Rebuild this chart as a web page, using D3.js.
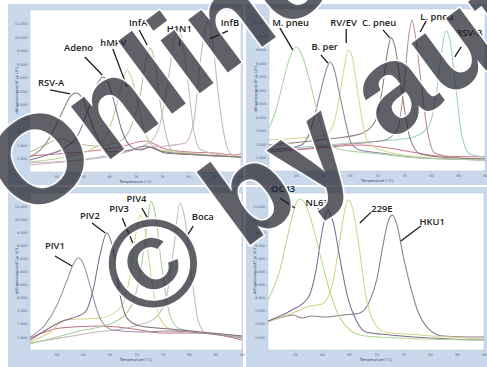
<!DOCTYPE html>
<html>
<head>
<meta charset="utf-8">
<script src="https://cdn.jsdelivr.net/npm/d3@7"></script>
<style>
  html, body { margin: 0; padding: 0; background: #ffffff; }
  svg { display: block; }
</style>
</head>
<body>
<svg id="chart" width="487" height="367"></svg>
<script>
// Melt-curve derivative data: each point is [temperature °C, -dF/dT]
const tempTicks = [55, 60, 65, 70, 75, 80, 85, 90];
const valueTicks = [10, 20, 30, 40, 50, 60, 70, 80, 90, 100, 110];

// Respiratory viruses panel
const rsvA  = [[50,11.1],[52.8,20.0],[54.7,32.6],[56.3,45.9],[57.6,55.6],[58.7,58.5],[59.9,54.8],[61.0,43.7],[62.3,29.6],[63.7,19.3],[65.2,14.8],[69.0,16.3],[71.8,19.3],[74.6,15.6],[82.2,12.6],[90,11.1]];
const adeno = [[50,8.9],[53.8,13.3],[56.6,17.8],[59.1,27.4],[61.0,45.9],[62.5,63.0],[63.8,70.4],[65.0,64.5],[66.1,49.6],[67.4,31.1],[69.0,19.3],[70.9,16.3],[72.8,18.5],[75.6,14.1],[82.2,12.6],[90,11.1]];
const hmpv  = [[50,7.4],[55.7,10.4],[61.4,16.3],[64.2,25.2],[66.1,44.5],[67.4,65.2],[68.4,75.6],[69.3,68.9],[70.5,49.6],[71.6,31.1],[72.8,21.5],[74.6,16.3],[82.2,13.3],[90,11.1]];
const infA  = [[50,14.8],[52.8,20.0],[55.7,24.5],[58.5,21.5],[62.3,19.3],[67.1,23.0],[69.3,34.8],[70.9,57.1],[72.0,83.0],[72.8,91.9],[73.5,84.5],[74.6,53.4],[75.8,27.4],[76.9,16.3],[82.2,12.6],[90,11.1]];
const h1n1  = [[50,5.2],[59.5,8.9],[69.0,16.3],[72.8,22.2],[74.6,34.8],[76.2,68.2],[77.3,97.8],[78.1,106.7],[78.8,99.3],[80.0,64.5],[81.1,29.6],[82.2,17.0],[86.0,12.6],[90,11.1]];
const infB  = [[50,6.7],[63.3,10.4],[71.8,17.8],[75.6,19.3],[79.4,21.5],[81.1,38.5],[82.2,79.3],[83.2,105.2],[83.7,111.9],[84.5,101.5],[85.6,60.8],[86.8,27.4],[87.9,14.1],[90,10.4]];
const ntc1  = [[50,11.9],[59.5,14.8],[67.1,18.5],[71.8,23.0],[73.1,21.5],[75.6,17.0],[80.4,14.8],[85.1,14.1],[88.9,12.6],[90,13.3]];

// Bacteria / RV panel
const mPneu = [[50,31.9],[51.3,45.2],[52.6,65.9],[53.9,84.5],[55.0,91.9],[56.1,85.9],[57.4,68.9],[58.5,51.1],[59.6,34.1],[60.6,23.0],[62.0,17.8],[63.7,15.6],[68.7,13.3],[78.0,9.6],[90,8.2]];
const bPer  = [[50,15.6],[53.9,17.0],[56.3,20.0],[58.0,34.1],[59.4,56.3],[60.6,74.8],[61.3,80.8],[62.0,76.3],[63.1,56.3],[64.3,34.1],[65.2,20.7],[66.8,15.6],[70.6,13.3],[78.0,9.6],[90,8.2]];
const rvEv  = [[50,23.0],[55.7,24.5],[60.4,26.7],[61.9,34.1],[63.1,56.3],[64.1,80.8],[64.6,89.7],[65.3,85.9],[66.5,56.3],[67.4,34.1],[68.3,21.5],[70.2,16.3],[78.0,10.4],[90,8.2]];
const cPneu = [[50,19.3],[59.4,23.0],[66.9,27.4],[69.6,36.3],[71.1,63.7],[72.0,89.7],[72.6,98.6],[73.3,92.6],[74.6,58.5],[76.1,24.5],[78.0,12.6],[81.7,10.4],[90,8.9]];
const lPneu = [[50,14.1],[63.1,19.3],[71.5,23.0],[73.9,31.9],[75.0,63.7],[75.9,100.8],[76.5,111.9],[77.0,103.0],[78.0,71.1],[79.3,30.4],[80.7,13.3],[85.4,9.6],[90,8.9]];
const rsvB  = [[50,15.6],[65.0,20.7],[76.1,24.5],[79.4,31.9],[81.1,60.0],[82.0,89.7],[82.8,103.7],[83.5,97.1],[84.6,61.5],[85.7,26.7],[87.2,12.6],[90,10.4]];
const ntc2  = [[50,14.1],[59.4,17.0],[66.9,19.3],[74.3,15.6],[81.7,11.1],[90,10.4]];

// Parainfluenza / bocavirus panel
const piv1  = [[50,9.9],[52.8,19.1],[55.1,34.4],[57.0,53.5],[58.1,64.9],[59.1,70.3],[60.0,66.5],[61.3,49.7],[62.5,32.1],[63.6,21.4],[65.7,15.3],[70.8,13.8],[76.4,14.5],[82.1,13.0],[90,9.2]];
const piv2  = [[50,7.6],[55.7,21.4],[60.4,29.0],[61.9,45.8],[63.2,72.6],[64.5,89.4],[65.7,76.4],[67.0,42.0],[68.3,24.4],[70.8,18.3],[76.4,16.0],[82.1,13.8],[90,10.7]];
const piv3  = [[50,6.1],[53.8,13.8],[56.6,22.9],[63.2,24.4],[67.0,32.1],[68.9,57.3],[70.0,90.2],[70.8,103.1],[71.7,91.7],[73.0,52.0],[74.5,24.4],[76.8,15.3],[82.1,13.8],[90,10.7]];
const piv4  = [[50,4.6],[59.4,14.5],[66.0,21.4],[69.2,34.4],[70.9,61.1],[72.1,95.5],[72.8,113.8],[73.6,104.6],[74.9,62.6],[76.4,26.7],[78.3,16.0],[84.0,13.0],[90,9.9]];
const boca  = [[50,5.3],[61.3,13.0],[69.8,18.3],[73.6,24.4],[75.7,39.7],[77.2,80.2],[78.3,112.3],[79.2,100.8],[80.6,53.5],[81.7,22.9],[83.2,13.0],[87.7,11.5],[90,9.2]];
const ntc3  = [[50,9.2],[55.7,16.8],[63.2,18.3],[70.8,15.3],[74.5,13.0],[79.2,13.0],[82.1,13.0],[86.8,10.7],[90,7.6]];

// Coronavirus panel
const oc43  = [[50,38.2],[52.2,61.1],[54.1,95.5],[55.2,112.3],[55.9,115.4],[57.0,110.8],[58.5,91.7],[60.0,67.2],[61.5,44.3],[62.8,29.0],[65.2,15.3],[68.0,10.7],[74.4,9.2],[90,7.6]];
const nl63  = [[50,22.2],[54.1,29.8],[57.4,39.7],[58.9,61.1],[60.0,90.2],[61.1,106.9],[62.2,95.5],[63.3,70.3],[64.8,39.7],[66.3,22.9],[68.1,13.8],[72.6,11.5],[90,7.6]];
const e229  = [[50,21.4],[55.0,29.0],[57.8,33.6],[60.0,35.1],[61.9,49.7],[63.3,84.0],[64.3,108.5],[64.8,114.6],[65.6,109.2],[66.7,84.0],[68.1,42.0],[69.6,21.4],[71.7,13.8],[78.1,11.5],[90,8.4]];
const hku1  = [[50,22.2],[52.2,24.4],[54.6,26.7],[56.3,24.4],[58.1,26.0],[60.6,25.2],[63.9,26.7],[67.0,28.3],[68.9,38.2],[70.2,55.0],[71.3,80.2],[72.2,97.8],[73.0,103.1],[73.9,95.5],[75.0,72.6],[76.3,49.7],[77.8,29.0],[79.6,16.8],[82.4,10.7],[87.4,9.9],[90,9.9]];

// Panel layout, curve colours and peak annotations (annotation anchors in data units)
const panels = [
  {
    bg: [8, 4, 235, 181], plot: [30, 10, 241, 172],
    series: [
      { data: ntc1,  color: "#d07a88" },
      { data: infB,  color: "#cfb0c2" },
      { data: h1n1,  color: "#c4bcc2" },
      { data: infA,  color: "#b9bf9c" },
      { data: hmpv,  color: "#bcd08e" },
      { data: adeno, color: "#7f7394" },
      { data: rsvA,  color: "#8d7f7b" }
    ],
    labels: [
      { text: "RSV-A", at: [54.0, 63.7], line: [[53.8, 60.8], [57.6, 57.8]] },
      { text: "Adeno", at: [59.2, 90.0], line: [[60.4, 85.2], [63.7, 71.9]] },
      { text: "hMPV",  at: [65.8, 93.7], line: [[65.7, 91.1], [68.4, 63.0]] },
      { text: "InfA",  at: [70.5, 108.5], line: [[70.7, 105.2], [72.2, 94.1]] },
      { text: "H1N1",  at: [78.3, 103.4], line: [[78.4, 100.8], [78.4, 93.4]] },
      { text: "InfB",  at: [87.9, 108.5], line: [[87.5, 104.5], [84.1, 98.6]] }
    ]
  },
  {
    bg: [246, 4, 241, 181], plot: [269, 9, 485, 171],
    series: [
      { data: ntc2,  color: "#d07a88" },
      { data: rsvB,  color: "#9fcfc8" },
      { data: lPneu, color: "#b48d9a" },
      { data: cPneu, color: "#8c7c78" },
      { data: rvEv,  color: "#d6d98c" },
      { data: bPer,  color: "#8f80a2" },
      { data: mPneu, color: "#a8d4a2" }
    ],
    labels: [
      { text: "M. pneu", at: [54.0, 107.1], line: [[52.0, 106.0], [54.4, 89.7]] },
      { text: "B. per",  at: [60.3, 89.3],  line: [[59.6, 86.0], [60.9, 80.0]] },
      { text: "RV/EV",   at: [63.8, 107.1], line: [[64.3, 105.2], [64.3, 94.8]] },
      { text: "C. pneu", at: [70.4, 107.1], line: [[71.1, 104.5], [72.4, 98.6]] },
      { text: "L. pneu", at: [81.1, 111.5], line: [[79.1, 111.2], [78.0, 103.0]] },
      { text: "RSV-B",   at: [87.1, 99.7],  line: [[85.6, 91.9], [84.4, 84.5]] }
    ]
  },
  {
    bg: [8, 187, 235, 180], plot: [30, 193, 242, 350],
    series: [
      { data: ntc3, color: "#c8707e" },
      { data: boca, color: "#c2b8bd" },
      { data: piv4, color: "#a9cfa0" },
      { data: piv3, color: "#d8d28c" },
      { data: piv2, color: "#7e6a82" },
      { data: piv1, color: "#9a8aa8" }
    ],
    labels: [
      { text: "PIV1", at: [54.7, 77.0],  line: [[54.7, 71.8], [57.9, 64.2]] },
      { text: "PIV2", at: [61.3, 100.5], line: [[61.7, 97.0], [64.2, 89.4]] },
      { text: "PIV3", at: [66.8, 105.1], line: [[67.4, 100.8], [69.4, 81.7]] },
      { text: "PIV4", at: [70.1, 113.5], line: [[71.1, 108.5], [72.1, 101.6]] },
      { text: "Boca", at: [82.6, 99.7],  line: [[80.8, 94.7], [79.6, 87.1]] }
    ]
  },
  {
    bg: [246, 187, 241, 180], plot: [268, 193, 484, 350],
    series: [
      { data: hku1, color: "#8e7a8a" },
      { data: e229, color: "#d7d48c" },
      { data: nl63, color: "#7e6a96" },
      { data: oc43, color: "#b4d892" }
    ],
    labels: [
      { text: "OC43", at: [52.8, 121.1], line: [[52.2, 116.1], [55.0, 108.5]] },
      { text: "NL63", at: [59.1, 110.4], line: [[59.3, 108.5], [59.8, 102.4]] },
      { text: "229E", at: [71.1, 105.1], line: [[69.1, 105.4], [67.0, 97.0]] },
      { text: "HKU1", at: [80.4, 95.9],  line: [[78.3, 94.7], [74.6, 83.3]] }
    ]
  }
];

const svg = d3.select("#chart");
const labelFont = "'Open Sans', 'Noto Sans', sans-serif";
const tickFont = "'DejaVu Sans', sans-serif";

panels.forEach((p, i) => {
  const g = svg.append("g");
  const [bx, by, bw, bh] = p.bg;
  const [x0, y0, x1, y1] = p.plot;

  // light blue panel frame
  g.append("rect").attr("x", bx).attr("y", by).attr("width", bw).attr("height", bh)
    .attr("fill", "#c9d8eb");

  const x = d3.scaleLinear().domain([50, 90]).range([x0, x1]);
  const y = d3.scaleLinear().domain([0, 120]).range([y1, y0]);

  // plotting area
  g.append("rect").attr("x", x0).attr("y", y0).attr("width", x1 - x0).attr("height", y1 - y0)
    .attr("fill", "#ffffff").attr("stroke", "#b8c3d2").attr("stroke-width", 0.5);

  // axes
  const xAxis = g.append("g").attr("transform", `translate(0,${y1})`)
    .call(d3.axisBottom(x).tickValues(tempTicks).tickSize(1.5).tickPadding(2).tickFormat(d3.format("d")));
  const yAxis = g.append("g").attr("transform", `translate(${x0},0)`)
    .call(d3.axisLeft(y).tickValues(valueTicks).tickSize(1.5).tickPadding(1.5).tickFormat(d => d3.format(".3f")(d / 10)));
  [xAxis, yAxis].forEach(a => {
    a.select(".domain").remove();
    a.selectAll(".tick line").attr("stroke", "#8f9cb0").attr("stroke-width", 0.4);
    a.selectAll(".tick text").attr("fill", "#556078").attr("font-size", 3.5).attr("font-family", tickFont);
  });

  g.append("text").attr("x", (x0 + x1) / 2).attr("y", y1 + 11)
    .attr("text-anchor", "middle").attr("font-size", 3.7).attr("font-family", tickFont)
    .attr("fill", "#3e4a60").text("Temperature (°C)");
  g.append("text")
    .attr("transform", `translate(${x0 - 12},${(y0 + y1) / 2}) rotate(-90)`)
    .attr("text-anchor", "middle").attr("font-size", 3.5).attr("font-family", tickFont)
    .attr("fill", "#3e4a60").text("-d(Fluorescence)/dT (x 10³)");

  // melt curves
  const clipId = "clip" + i;
  g.append("clipPath").attr("id", clipId).append("rect")
    .attr("x", x0).attr("y", y0).attr("width", x1 - x0).attr("height", y1 - y0);
  const line = d3.line().x(d => x(d[0])).y(d => y(d[1])).curve(d3.curveMonotoneX);
  g.append("g").attr("clip-path", `url(#${clipId})`)
    .selectAll("path").data(p.series).join("path")
    .attr("d", s => line(s.data))
    .attr("fill", "none").attr("stroke", s => s.color)
    .attr("stroke-width", 1.05).attr("stroke-linejoin", "round");

  // peak annotations
  const ann = g.append("g");
  ann.selectAll("line").data(p.labels).join("line")
    .attr("x1", d => x(d.line[0][0])).attr("y1", d => y(d.line[0][1]))
    .attr("x2", d => x(d.line[1][0])).attr("y2", d => y(d.line[1][1]))
    .attr("stroke", "#1d1d1d").attr("stroke-width", 1.3);
  ann.selectAll("text").data(p.labels).join("text")
    .attr("x", d => x(d.at[0])).attr("y", d => y(d.at[1]))
    .attr("text-anchor", "middle").attr("font-family", labelFont)
    .attr("font-weight", 600).attr("font-size", 9.4).attr("fill", "#222222")
    .text(d => d.text);
});

// overlaid ownership mark
const mark = svg.append("g")
  .attr("transform", "translate(38,157) rotate(-36.5)")
  .attr("font-family", "'Liberation Sans', Arial, sans-serif")
  .attr("font-weight", "bold").attr("font-size", 125)
  .attr("fill", "rgb(28,30,40)").attr("fill-opacity", 0.7)
  .attr("stroke", "#ffffff").attr("stroke-width", 3).attr("stroke-linejoin", "round")
  .attr("paint-order", "stroke");
mark.append("text").attr("x", -49).attr("y", 45).text("Online");
mark.append("text").attr("x", -17).attr("y", 197).text("© by author");
</script>
</body>
</html>
